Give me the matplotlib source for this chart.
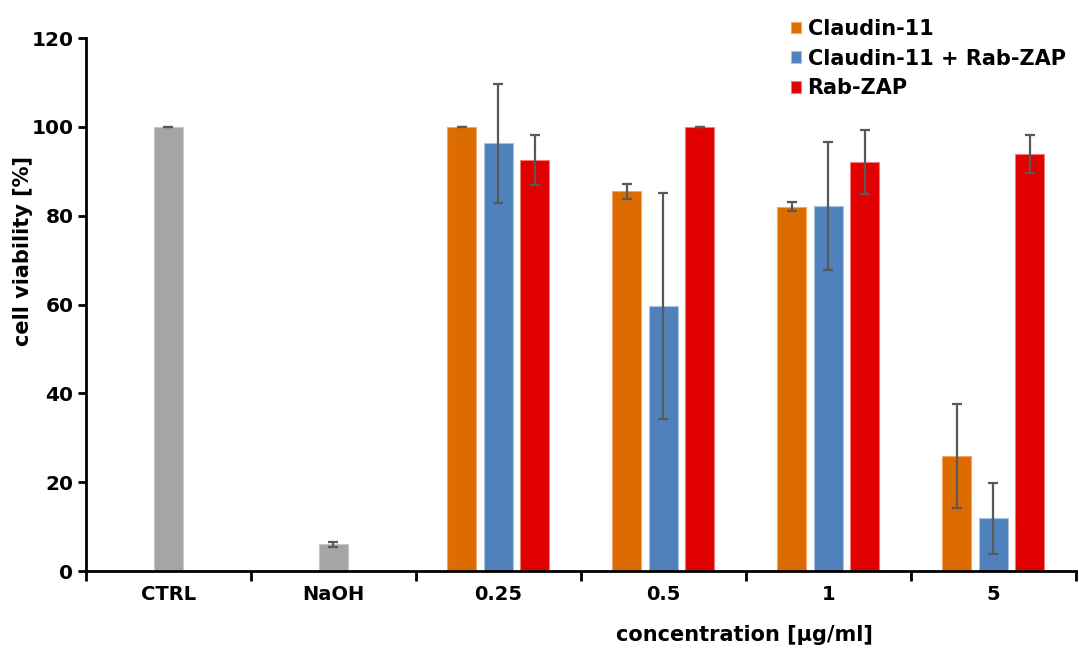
import matplotlib
matplotlib.use("Agg")
import matplotlib.pyplot as plt
import numpy as np
from matplotlib.patches import Patch

plt.rcParams['font.family'] = ['DejaVu Sans']

categories = ["CTRL", "NaOH", "0.25", "0.5", "1", "5"]
control_values = [100.0, 6.0]
control_errors = [0.0, 0.6]
conc_labels = ["0.25", "0.5", "1", "5"]
claudin = [100.0, 85.5, 82.0, 26.0]
claudin_err = [0.0, 1.7, 1.0, 11.7]
claudin_zap = [96.3, 59.7, 82.2, 11.9]
claudin_zap_err = [13.4, 25.5, 14.4, 8.0]
rab_zap = [92.5, 100.0, 92.0, 93.8]
rab_zap_err = [5.6, 0.0, 7.2, 4.3]

series_names = ["Claudin-11", "Claudin-11 + Rab-ZAP", "Rab-ZAP"]
colors = ["#DD6C00", "#4F81BD", "#E00000"]
edges = ["#F2A669", "#A9C2E2", "#F07A7A"]
gray = "#A5A5A5"
gray_edge = "#C8C8C8"
err_color = "#595959"

fig = plt.figure(figsize=(10.79, 6.5), dpi=100)
ax = fig.add_axes([0.0797, 0.1215, 0.9173, 0.82])

w = 0.176
step = 0.221
ekw = dict(ecolor=err_color, elinewidth=1.6, capsize=3.3, capthick=1.6)

x_ctrl = np.arange(2)
ax.bar(x_ctrl, control_values, width=w, color=gray, edgecolor=gray_edge, linewidth=0.8,
       yerr=control_errors, error_kw=ekw, zorder=2)

x_conc = np.arange(2, 6)
for i, (vals, errs) in enumerate([(claudin, claudin_err), (claudin_zap, claudin_zap_err), (rab_zap, rab_zap_err)]):
    ax.bar(x_conc + (i - 1) * step, vals, width=w, color=colors[i], edgecolor=edges[i],
           linewidth=0.8, yerr=errs, error_kw=ekw, zorder=2)

ax.set_xlim(-0.5, 5.5)
ax.set_ylim(0, 120)
ax.set_yticks(np.arange(0, 121, 20))
ax.set_xticks(np.arange(-0.5, 6.0, 1.0))
ax.set_xticklabels([])
ax.set_xticks(np.arange(6), minor=True)
ax.set_xticklabels(categories, minor=True)
ax.tick_params(axis='x', which='minor', length=0, pad=10, labelsize=14)
ax.tick_params(axis='x', which='major', length=7, width=2, direction='out')
ax.tick_params(axis='y', length=6, width=2, direction='out', labelsize=14.5, pad=3)
for lab in ax.get_xticklabels(minor=True) + ax.get_yticklabels():
    lab.set_fontweight('bold')

for s in ['top', 'right']:
    ax.spines[s].set_visible(False)
for s in ['left', 'bottom']:
    ax.spines[s].set_linewidth(2)
    ax.spines[s].set_color('black')

ax.set_ylabel("cell viability [%]", fontsize=15, fontweight='bold')
ax.yaxis.set_label_coords(-0.054, 0.60)
ax.set_xlabel("concentration [µg/ml]", fontsize=15, fontweight='bold')
ax.xaxis.set_label_coords(0.6655, -0.102)

handles = [Patch(facecolor=colors[i], edgecolor=edges[i], linewidth=0.8) for i in range(3)]
leg = fig.legend(handles, series_names, loc='upper left', bbox_to_anchor=(0.733, 0.971),
                 frameon=False, prop={'weight': 'bold', 'size': 15},
                 handlelength=0.5, handleheight=0.5, handletextpad=0.3, labelspacing=0.47,
                 borderaxespad=0, borderpad=0)

fig.savefig("out.png", dpi=100)
